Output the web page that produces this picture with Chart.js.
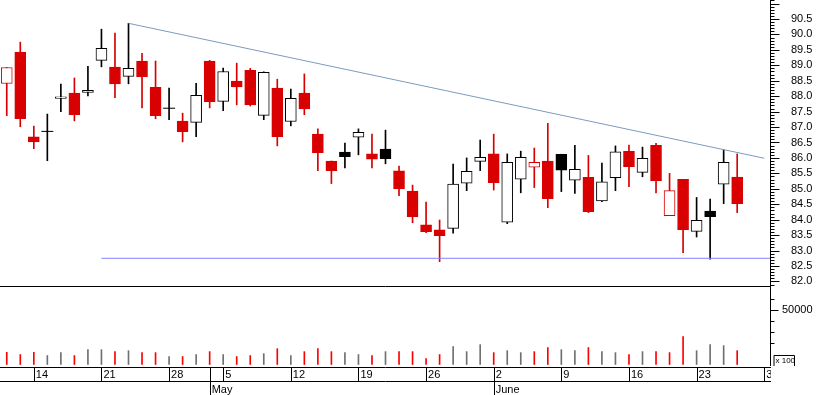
<!DOCTYPE html>
<html>
<head>
<meta charset="utf-8">
<script src="https://cdn.jsdelivr.net/npm/chart.js@4.4.0/dist/chart.umd.min.js"></script>
<style>
  html, body { margin: 0; padding: 0; background: #fff; }
  #wrap { position: relative; width: 817px; height: 395px; overflow: hidden; }
  canvas { position: absolute; left: 0; }
  #price { top: 0; }
  #vol { top: 287px; }
</style>
</head>
<body>
<div id="wrap">
  <canvas id="price" width="817" height="287"></canvas>
  <canvas id="vol" width="817" height="108"></canvas>
</div>
<script>
// trading days, 10 Apr - 26 Jun (1 May closed)
const dates = [
  'Apr 10','Apr 11','Apr 14','Apr 15','Apr 16','Apr 17','Apr 18','Apr 21','Apr 22','Apr 23',
  'Apr 24','Apr 25','Apr 28','Apr 29','Apr 30','May 2','May 5','May 6','May 7','May 8',
  'May 9','May 12','May 13','May 14','May 15','May 16','May 19','May 20','May 21','May 22',
  'May 23','May 26','May 27','May 28','May 29','May 30','Jun 2','Jun 3','Jun 4','Jun 5',
  'Jun 6','Jun 9','Jun 10','Jun 11','Jun 12','Jun 13','Jun 16','Jun 17','Jun 18','Jun 19',
  'Jun 20','Jun 23','Jun 24','Jun 25','Jun 26'
];
const opens = [
  88.41, 89.43, 86.68, 86.86, 87.93, 88.10, 88.12, 89.16, 88.94, 88.64,
  89.14, 88.29, 87.61, 87.19, 87.15, 89.14, 87.83, 88.49, 88.84, 87.38,
  88.26, 87.18, 88.10, 86.77, 85.90, 86.19, 86.67, 86.13, 86.29, 85.58,
  84.93, 83.83, 83.67, 83.72, 85.18, 85.89, 86.13, 83.92, 85.31, 85.70,
  85.90, 86.12, 85.28, 85.37, 84.61, 85.36, 86.21, 85.53, 86.41, 84.13,
  85.31, 83.62, 84.28, 85.15, 85.38
];
const highs = [
  88.93, 89.75, 87.03, 87.42, 88.39, 88.59, 88.97, 90.17, 90.04, 90.36,
  89.39, 89.14, 88.26, 87.45, 88.42, 89.16, 88.91, 89.07, 88.90, 88.79,
  88.55, 88.23, 88.72, 86.94, 85.90, 86.48, 86.94, 86.77, 86.90, 85.74,
  85.12, 84.57, 83.99, 85.80, 86.00, 86.58, 86.77, 86.13, 86.22, 86.32,
  87.12, 86.12, 86.41, 86.08, 85.83, 86.39, 86.42, 86.35, 86.47, 85.50,
  85.31, 84.72, 84.67, 86.26, 86.13
];
const lows = [
  87.37, 87.01, 86.30, 85.91, 87.50, 87.20, 88.01, 88.95, 87.95, 88.40,
  87.62, 87.27, 87.24, 86.52, 86.69, 87.62, 87.53, 87.72, 87.68, 87.24,
  86.39, 87.04, 87.40, 85.59, 85.17, 85.68, 86.10, 85.68, 85.81, 84.78,
  83.90, 83.58, 82.64, 83.56, 84.94, 85.59, 84.96, 83.87, 84.87, 85.04,
  84.39, 84.91, 84.85, 84.23, 84.58, 84.94, 85.07, 85.39, 84.87, 84.13,
  82.93, 83.44, 82.72, 84.52, 84.23
];
const closes = [
  88.93, 87.27, 86.52, 86.86, 87.98, 87.40, 88.19, 89.55, 88.40, 88.90,
  88.63, 87.37, 87.61, 86.85, 88.03, 87.82, 88.80, 88.30, 87.72, 88.77,
  86.69, 87.93, 87.59, 86.17, 85.59, 86.04, 86.83, 85.96, 85.98, 85.00,
  84.10, 83.61, 83.48, 85.15, 85.57, 86.02, 85.20, 85.86, 86.02, 85.86,
  84.68, 85.60, 85.63, 84.26, 85.23, 86.20, 85.72, 85.99, 85.26, 84.94,
  83.68, 83.98, 84.10, 85.86, 84.52
];
const prevClose = 89.3; // close before first bar
// volume, x 100
const volumes = [
  11200, 9100, 11200, 8200, 10900, 8200, 13600, 13600, 11800, 12700,
  10900, 10900, 7300, 7300, 9100, 11800, 9100, 7300, 8200, 10000,
  14500, 8200, 11800, 14500, 11800, 10900, 9100, 8200, 11800, 11800,
  11800, 5500, 9100, 16400, 11800, 18200, 10900, 12700, 10900, 11800,
  15500, 13600, 12700, 15500, 11800, 10900, 9100, 11800, 11800, 10900,
  25500, 12700, 18200, 17300, 12700
];

// trend lines (bar index, price)
const trendX = [9, 56];
const trendY = [90.36, 85.99];
const supportX = [7, 56.5];
const supportY = 82.75;

// axis ticks
const weekIdx = [2, 7, 12, 16, 21, 26, 31, 36, 41, 46, 51, 56];
const weekLabels = ['14', '21', '28', '5', '12', '19', '26', '2', '9', '16', '23', '30'];
const monthIdx = [15, 36];
const monthLabels = ['May', 'June'];
const priceTicks = [];
for (let k = 819; k <= 911; k++) priceTicks.push(k / 10);
const volTicks = [20000, 30000, 40000, 50000, 60000];

const RED = '#d80000', BLACK = '#000000', VRED = '#ff0000', VGRAY = '#707070';
const isDown = i => closes[i] < (i === 0 ? prevClose : closes[i - 1]);
const candleColor = i => (i == null ? BLACK : (isDown(i) ? RED : BLACK));

Chart.defaults.font.family = "'Liberation Sans', Arial, sans-serif";
Chart.defaults.font.size = 11;
Chart.defaults.color = '#000';

const X_MIN = -0.5, X_MAX = 56.5;

// keep axes from reserving room for half labels / padding
function noPad(w, h) {
  return s => {
    if (w) s.width = w;
    if (h) s.height = h;
    s.paddingTop = 0; s.paddingBottom = 0; s.paddingLeft = 0; s.paddingRight = 0;
  };
}

// price panel
const pricePlugin = {
  id: 'priceAxis',
  afterDraw(chart) {
    const ctx = chart.ctx, area = chart.chartArea, ys = chart.scales.y;
    const ax = Math.round(area.right) - 0.5;
    ctx.save();
    ctx.strokeStyle = '#000';
    ctx.lineWidth = 1;
    ctx.beginPath();
    ctx.moveTo(ax, 0); ctx.lineTo(ax, area.bottom);
    priceTicks.forEach(v => {
      const y = Math.round(ys.getPixelForValue(v)) + 0.5;
      const major = Math.round(v * 10) % 5 === 0;
      ctx.moveTo(ax, y); ctx.lineTo(ax + (major ? 9 : 4), y);
    });
    ctx.moveTo(0, area.bottom - 0.5); ctx.lineTo(ax + 0.5, area.bottom - 0.5);
    ctx.stroke();
    ctx.restore();
  }
};

new Chart(document.getElementById('price'), {
  data: {
    datasets: [
      {
        type: 'line', order: 0,
        data: trendX.map((x, k) => ({ x, y: trendY[k] })),
        borderColor: '#7b9bbf', borderWidth: 1, pointRadius: 0
      },
      {
        type: 'line', order: 0,
        data: supportX.map(x => ({ x, y: supportY })),
        borderColor: '#8282ff', borderWidth: 1, pointRadius: 0
      },
      {
        type: 'line', order: 1, showLine: false,
        data: opens.map((o, i) => (o === closes[i] ? { x: i, y: o } : null)).filter(Boolean),
        pointStyle: 'line', pointRadius: 6, pointBorderWidth: 1,
        pointBorderColor: c => candleColor(c.raw ? c.raw.x : null)
      },
      {
        type: 'bar', order: 2, grouped: false, barThickness: 11,
        borderWidth: 1, borderSkipped: false,
        data: opens.map((o, i) => ({ x: i, y: [o, closes[i]] })),
        backgroundColor: c => (c.dataIndex != null && closes[c.dataIndex] >= opens[c.dataIndex]) ? '#fff' : candleColor(c.dataIndex),
        borderColor: c => candleColor(c.dataIndex)
      },
      {
        type: 'bar', order: 3, grouped: false, barThickness: 1,
        borderWidth: 0,
        data: lows.map((l, i) => ({ x: i, y: [l, highs[i]] })),
        backgroundColor: c => candleColor(c.dataIndex)
      }
    ]
  },
  options: {
    responsive: false, animation: false, devicePixelRatio: 1, events: [],
    layout: { padding: 0, autoPadding: false },
    plugins: { legend: { display: false }, tooltip: { enabled: false } },
    scales: {
      x: { type: 'linear', min: X_MIN, max: X_MAX, offset: false, display: false },
      y: {
        type: 'linear', position: 'right', min: 81.82, max: 91.115,
        afterFit: noPad(46, 0),
        afterBuildTicks: s => { s.ticks = priceTicks.map(v => ({ value: v })); },
        grid: { display: false, drawTicks: false },
        border: { display: false },
        ticks: {
          autoSkip: false, padding: 20,
          callback: v => (Math.round(v * 10) % 5 === 0 && v < 90.8 ? v.toFixed(1) : '')
        }
      }
    }
  },
  plugins: [pricePlugin]
});

// volume panel + date axis
const volPlugin = {
  id: 'volAxis',
  afterDraw(chart) {
    const ctx = chart.ctx, area = chart.chartArea;
    const ys = chart.scales.y, xs = chart.scales.x, xm = chart.scales.xm;
    const ax = Math.round(area.right) - 0.5;
    ctx.save();
    // hide the part of the last date label past the axis
    ctx.fillStyle = '#fff';
    ctx.fillRect(ax + 0.5, xs.top, 817, 60);
    ctx.strokeStyle = '#000';
    ctx.lineWidth = 1;
    ctx.beginPath();
    ctx.moveTo(ax, 0); ctx.lineTo(ax, area.bottom - 1);
    volTicks.forEach(v => {
      const y = Math.round(ys.getPixelForValue(v)) + 0.5;
      ctx.moveTo(ax, y); ctx.lineTo(ax + (v === 50000 ? 8 : 4), y);
    });
    const r1 = Math.round(xs.top) + 0.5, r2 = Math.round(xm.top) + 0.5;
    ctx.moveTo(0, r1); ctx.lineTo(ax + 0.5, r1);
    ctx.moveTo(0, r2); ctx.lineTo(ax + 0.5, r2);
    weekIdx.forEach(i => {
      const x = Math.round(xs.getPixelForValue(i)) + 0.5;
      ctx.moveTo(x, r1); ctx.lineTo(x, r2);
    });
    monthIdx.forEach(i => {
      const x = Math.round(xm.getPixelForValue(i)) + 0.5;
      ctx.moveTo(x, r1); ctx.lineTo(x, xm.bottom);
    });
    // "x 100" unit box
    ctx.moveTo(ax + 3.5, area.bottom - 1); ctx.lineTo(ax + 3.5, area.bottom - 11.5);
    ctx.lineTo(ax + 24, area.bottom - 11.5); ctx.lineTo(ax + 24, area.bottom - 1);
    ctx.stroke();
    ctx.fillStyle = '#000';
    ctx.font = "8px 'Liberation Sans', Arial, sans-serif";
    ctx.textBaseline = 'middle';
    ctx.fillText('x 100', ax + 5, area.bottom - 6);
    ctx.restore();
  }
};

new Chart(document.getElementById('vol'), {
  type: 'bar',
  data: {
    datasets: [{
      data: volumes.map((v, i) => ({ x: i, y: v })),
      barThickness: 1, borderWidth: 0,
      backgroundColor: c => (c.dataIndex != null && isDown(c.dataIndex) ? VRED : VGRAY)
    }]
  },
  options: {
    responsive: false, animation: false, devicePixelRatio: 1, events: [],
    layout: { padding: 0, autoPadding: false },
    plugins: { legend: { display: false }, tooltip: { enabled: false } },
    scales: {
      x: {
        type: 'linear', position: 'bottom', min: X_MIN, max: X_MAX, offset: false,
        afterFit: noPad(0, 14),
        afterBuildTicks: s => { s.ticks = weekIdx.map(v => ({ value: v })); },
        grid: { display: false, drawTicks: false },
        border: { display: false },
        ticks: {
          autoSkip: false, maxRotation: 0, align: 'start', labelOffset: 2, padding: 1,
          callback: (v, i) => weekLabels[i]
        }
      },
      xm: {
        type: 'linear', position: 'bottom', min: X_MIN, max: X_MAX, offset: false,
        afterFit: noPad(0, 14),
        afterBuildTicks: s => { s.ticks = monthIdx.map(v => ({ value: v })); },
        grid: { display: false, drawTicks: false },
        border: { display: false },
        ticks: {
          autoSkip: false, maxRotation: 0, align: 'start', labelOffset: 2, padding: 2,
          callback: (v, i) => monthLabels[i]
        }
      },
      y: {
        type: 'linear', position: 'right', min: -2300, max: 71100,
        afterFit: noPad(46, 0),
        afterBuildTicks: s => { s.ticks = volTicks.map(v => ({ value: v })); },
        grid: { display: false, drawTicks: false },
        border: { display: false },
        ticks: {
          autoSkip: false, padding: 11,
          callback: v => (v === 50000 ? '50000' : '')
        }
      }
    }
  },
  plugins: [volPlugin]
});
</script>
</body>
</html>
